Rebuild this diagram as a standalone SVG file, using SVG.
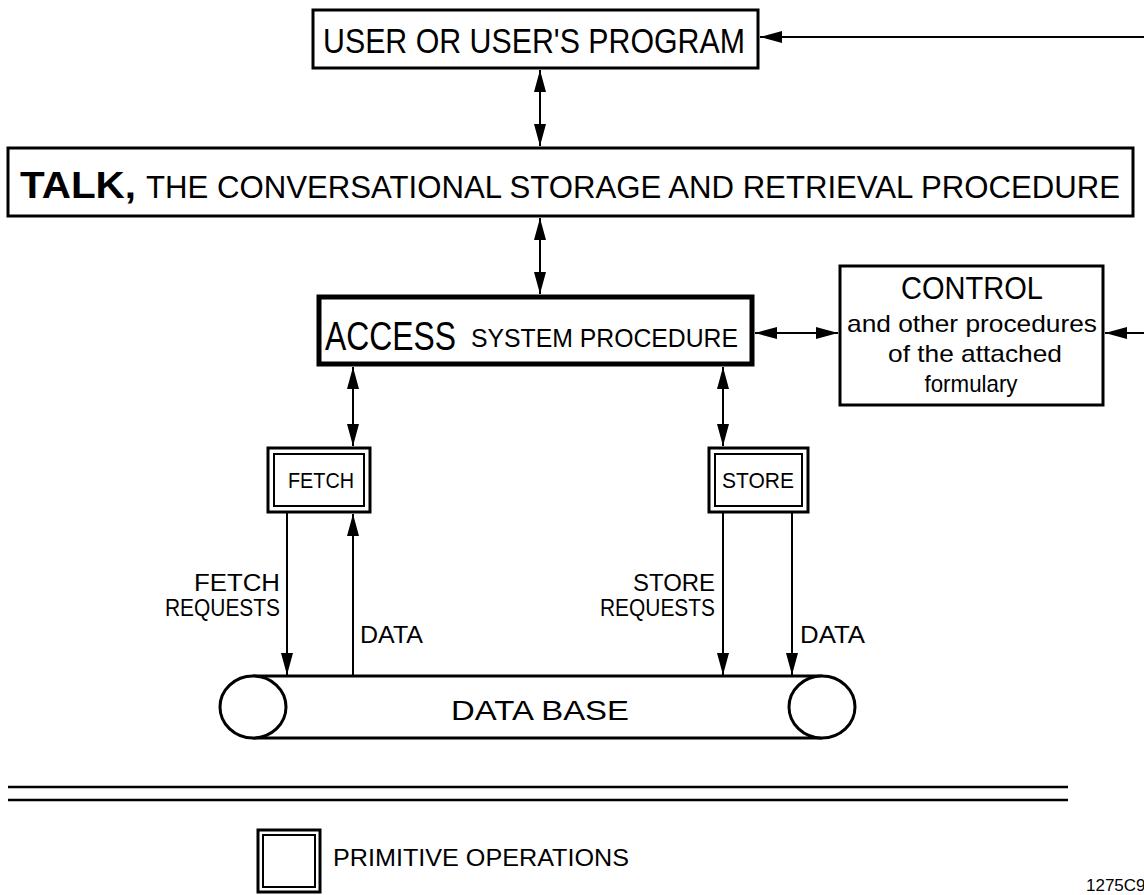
<svg xmlns="http://www.w3.org/2000/svg" width="1144" height="895" viewBox="0 0 1144 895">
<style>
.box{fill:#fff;stroke:#000;stroke-width:3}
.thick{fill:#fff;stroke:#000;stroke-width:5}
.thin{fill:none;stroke:#000;stroke-width:2}
.t{font-family:"Liberation Sans",Arial,sans-serif;fill:#000}
.c{stroke:#000;stroke-width:2;fill:none}
</style>
<defs>
<marker id="ah" markerUnits="userSpaceOnUse" markerWidth="22" markerHeight="12" viewBox="0 0 22 12" refX="22" refY="6" orient="auto-start-reverse">
<path d="M0,0 L22,6 L0,12 z" fill="#000"/>
</marker>
</defs>
<rect width="1144" height="895" fill="#fff"/>

<g id="connectors">
<line class="c" x1="1144" y1="37" x2="760" y2="37" marker-end="url(#ah)"/>
<line class="c" x1="540" y1="70" x2="540" y2="146" marker-start="url(#ah)" marker-end="url(#ah)"/>
<line class="c" x1="540" y1="218" x2="540" y2="294" marker-start="url(#ah)" marker-end="url(#ah)"/>
<line class="c" x1="755" y1="333" x2="838" y2="333" marker-start="url(#ah)" marker-end="url(#ah)"/>
<line class="c" x1="1144" y1="333" x2="1105" y2="333" marker-end="url(#ah)"/>
<line class="c" x1="353" y1="367" x2="353" y2="446" marker-start="url(#ah)" marker-end="url(#ah)"/>
<line class="c" x1="723" y1="367" x2="723" y2="446" marker-start="url(#ah)" marker-end="url(#ah)"/>
<line class="c" x1="287" y1="513" x2="287" y2="675" marker-end="url(#ah)"/>
<line class="c" x1="353" y1="675" x2="353" y2="514" marker-end="url(#ah)"/>
<line class="c" x1="723" y1="513" x2="723" y2="675" marker-end="url(#ah)"/>
<line class="c" x1="792" y1="513" x2="792" y2="675" marker-end="url(#ah)"/>
<text class="t" x="280" y="591" font-size="23" text-anchor="end" textLength="86" lengthAdjust="spacingAndGlyphs">FETCH</text>
<text class="t" x="280" y="616" font-size="23" text-anchor="end" textLength="115" lengthAdjust="spacingAndGlyphs">REQUESTS</text>
<text class="t" x="360" y="643" font-size="23" textLength="63" lengthAdjust="spacingAndGlyphs">DATA</text>
<text class="t" x="715" y="591" font-size="23" text-anchor="end" textLength="82" lengthAdjust="spacingAndGlyphs">STORE</text>
<text class="t" x="715" y="616" font-size="23" text-anchor="end" textLength="115" lengthAdjust="spacingAndGlyphs">REQUESTS</text>
<text class="t" x="800" y="643" font-size="23" textLength="65" lengthAdjust="spacingAndGlyphs">DATA</text>
</g>

<g id="user">
<rect class="box" x="313" y="10" width="445" height="58"/>
<text class="t" x="323" y="53" font-size="35" textLength="422" lengthAdjust="spacingAndGlyphs">USER OR USER'S PROGRAM</text>
</g>

<g id="talk">
<rect class="box" x="8" y="148" width="1125" height="68"/>
<text class="t" x="20" y="198" font-size="36" font-weight="bold" textLength="116" lengthAdjust="spacingAndGlyphs">TALK,</text>
<text class="t" x="146" y="198" font-size="31" textLength="974" lengthAdjust="spacingAndGlyphs">THE  CONVERSATIONAL  STORAGE  AND  RETRIEVAL  PROCEDURE</text>
</g>

<g id="access">
<rect class="thick" x="319" y="297" width="433" height="67"/>
<text class="t" x="325" y="350" font-size="40" textLength="131" lengthAdjust="spacingAndGlyphs">ACCESS</text>
<text class="t" x="471" y="347" font-size="26" textLength="267" lengthAdjust="spacingAndGlyphs">SYSTEM  PROCEDURE</text>
</g>

<g id="control">
<rect class="box" x="840" y="266" width="263" height="139"/>
<text class="t" x="972" y="299" font-size="32" text-anchor="middle" textLength="142" lengthAdjust="spacingAndGlyphs">CONTROL</text>
<text class="t" x="972" y="332" font-size="24" text-anchor="middle" textLength="250" lengthAdjust="spacingAndGlyphs">and other procedures</text>
<text class="t" x="975" y="362" font-size="24" text-anchor="middle" textLength="174" lengthAdjust="spacingAndGlyphs">of the attached</text>
<text class="t" x="971" y="392" font-size="24" text-anchor="middle" textLength="93" lengthAdjust="spacingAndGlyphs">formulary</text>
</g>

<g id="fetch">
<rect class="box" x="268" y="448" width="102" height="64"/>
<rect class="thin" x="274" y="454" width="90" height="52"/>
<text class="t" x="321" y="488" font-size="22" text-anchor="middle" textLength="66" lengthAdjust="spacingAndGlyphs">FETCH</text>
</g>

<g id="store">
<rect class="box" x="709" y="448" width="99" height="64"/>
<rect class="thin" x="715" y="454" width="87" height="52"/>
<text class="t" x="758" y="488" font-size="22" text-anchor="middle" textLength="72" lengthAdjust="spacingAndGlyphs">STORE</text>
</g>

<g id="database">
<line x1="253" y1="676" x2="822" y2="676" stroke="#000" stroke-width="3"/>
<line x1="253" y1="738" x2="822" y2="738" stroke="#000" stroke-width="3"/>
<ellipse cx="253" cy="707" rx="33" ry="31" fill="#fff" stroke="#000" stroke-width="3"/>
<ellipse cx="822" cy="707" rx="33" ry="31" fill="#fff" stroke="#000" stroke-width="3"/>
<text class="t" x="540" y="720" font-size="28" text-anchor="middle" textLength="178" lengthAdjust="spacingAndGlyphs">DATA  BASE</text>
</g>

<g id="separator">
<line x1="8" y1="787" x2="1068" y2="787" stroke="#000" stroke-width="2.5"/>
<line x1="8" y1="800" x2="1068" y2="800" stroke="#000" stroke-width="2.5"/>
</g>

<g id="legend">
<rect class="box" x="258" y="830" width="62" height="62"/>
<rect class="thin" x="263" y="835" width="52" height="52"/>
<text class="t" x="333" y="866" font-size="23" textLength="296" lengthAdjust="spacingAndGlyphs">PRIMITIVE  OPERATIONS</text>
</g>

<text class="t" x="1086" y="891" font-size="17">1275C9</text>
</svg>
